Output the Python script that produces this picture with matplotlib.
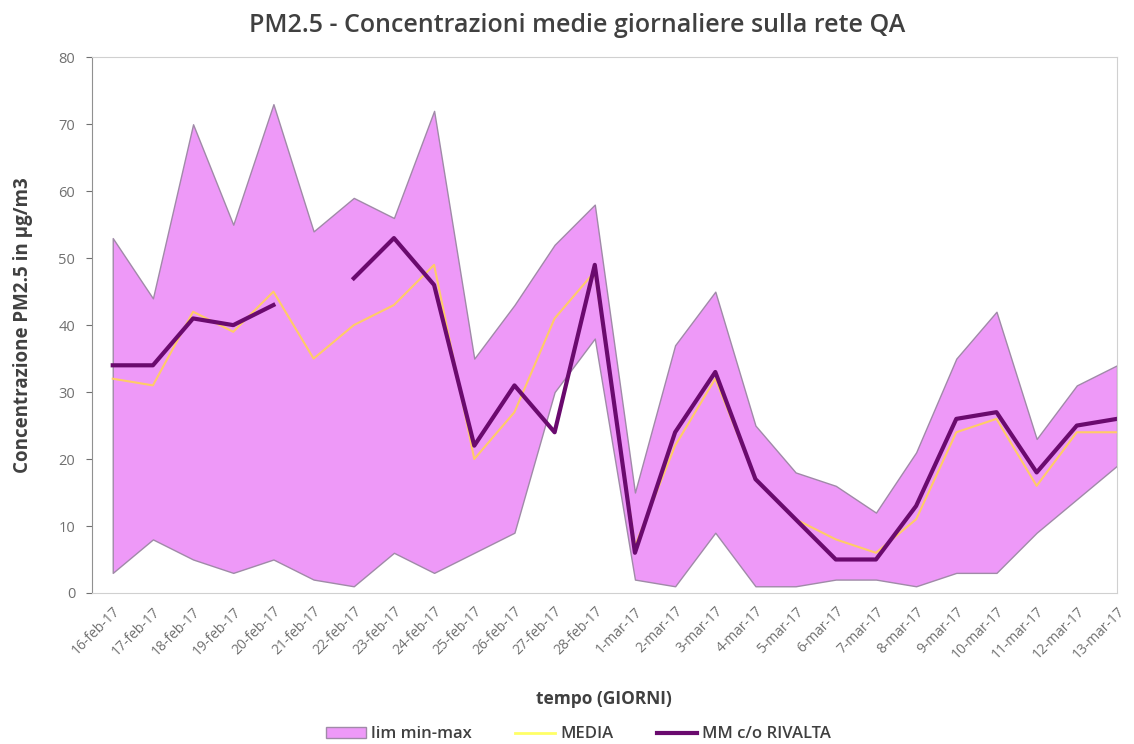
import numpy as np
import matplotlib
matplotlib.use("Agg")
import matplotlib.pyplot as plt
from matplotlib.patches import Patch
from matplotlib.lines import Line2D

plt.rcParams['font.family'] = ['Open Sans', 'DejaVu Sans']

# giorni
giorni = ['16-feb-17', '17-feb-17', '18-feb-17', '19-feb-17', '20-feb-17', '21-feb-17',
          '22-feb-17', '23-feb-17', '24-feb-17', '25-feb-17', '26-feb-17', '27-feb-17',
          '28-feb-17', '1-mar-17', '2-mar-17', '3-mar-17', '4-mar-17', '5-mar-17',
          '6-mar-17', '7-mar-17', '8-mar-17', '9-mar-17', '10-mar-17', '11-mar-17',
          '12-mar-17', '13-mar-17']

# valori in ug/m3
lim_max = [53, 44, 70, 55, 73, 54, 59, 56, 72, 35, 43, 52, 58,
           15, 37, 45, 25, 18, 16, 12, 21, 35, 42, 23, 31, 34]
lim_min = [3, 8, 5, 3, 5, 2, 1, 6, 3, 6, 9, 30, 38,
           2, 1, 9, 1, 1, 2, 2, 1, 3, 3, 9, 14, 19]
media = [32, 31, 42, 39, 45, 35, 40, 43, 49, 20, 27, 41, 48,
         7, 22, 32, 17, 11, 8, 6, 11, 24, 26, 16, 24, 24]
rivalta = [34, 34, 41, 40, 43, None, 47, 53, 46, 22, 31, 24, 49,
           6, 24, 33, 17, 11, 5, 5, 13, 26, 27, 18, 25, 26]

x = np.arange(len(giorni))
riv = np.array([np.nan if v is None else v for v in rivalta], dtype=float)

fig = plt.figure(figsize=(11.34, 7.44), dpi=100)
ax = fig.add_axes([0.081, 0.203, 0.904, 0.72])

ax.fill_between(x, lim_min, lim_max, facecolor='#EE99F8', edgecolor='#A08AA8', linewidth=1.0)
ax.plot(x, media, color='#FFCC66', linewidth=1.5)
ax.plot(x, riv, color='#6A0A6E', linewidth=3)

ax.set_xlim(-0.52, 25.0)
ax.set_ylim(0, 80)
ax.set_yticks(range(0, 81, 10))
ax.set_xticks(x)
ax.set_xticklabels(giorni, rotation=45, ha='right', rotation_mode='anchor')
ax.tick_params(axis='x', length=0, labelsize=10, colors='#707070', pad=8)
ax.tick_params(axis='y', length=4, labelsize=10.5, colors='#707070', direction='out', pad=8)
for s in ax.spines.values():
    s.set_color('#D0D0D0')
ax.spines['left'].set_color('#909090')

# titolo centrato sulla figura
fig.text(0.509, 0.966, 'PM2.5 - Concentrazioni medie giornaliere sulla rete QA', fontsize=18,
         color='#404040', fontweight='semibold', ha='center', va='center')
ax.set_ylabel('Concentrazione PM2.5 in µg/m3', fontsize=13.5, color='#404040',
              fontweight='bold', labelpad=18)
ax.set_xlabel('tempo (GIORNI)', fontsize=12.5, color='#404040', fontweight='bold', labelpad=20)

handles = [Patch(facecolor='#EE99F8', edgecolor='#A08AA8'),
           Line2D([0], [0], color='#FFFF66', linewidth=2),
           Line2D([0], [0], color='#6A0A6E', linewidth=3)]
leg = fig.legend(handles, ['lim min-max', 'MEDIA', 'MM c/o RIVALTA'], loc='lower center',
                 ncol=3, frameon=False, fontsize=12, bbox_to_anchor=(0.51, -0.018),
                 columnspacing=2.6, handlelength=2.4, handletextpad=0.3)
for t in leg.get_texts():
    t.set_color('#404040')
    t.set_fontweight('semibold')

fig.savefig('out.png', dpi=100)
